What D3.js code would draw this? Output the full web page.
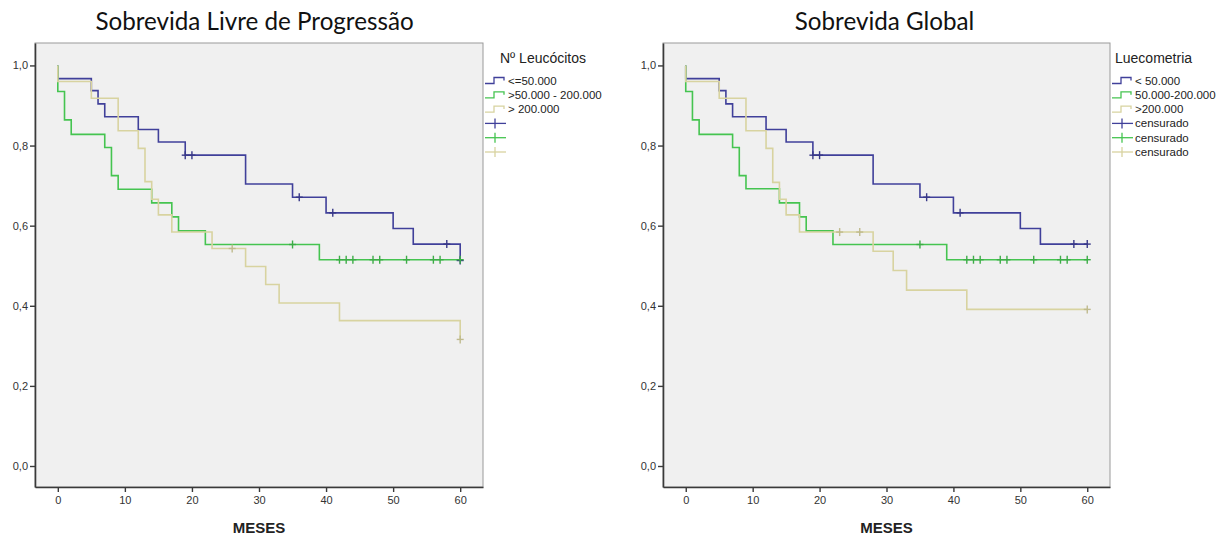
<!DOCTYPE html>
<html>
<head>
<meta charset="utf-8">
<script src="https://cdn.jsdelivr.net/npm/d3@7"></script>
<style>
  html, body { margin: 0; padding: 0; background: #ffffff; }
  svg { display: block; }
  .tick text { font-family: "Liberation Sans", Arial, sans-serif; font-size: 11px; fill: #333; }
</style>
</head>
<body>
<svg id="chart" width="1232" height="538"></svg>
<script>
// ---- data: Kaplan-Meier steps (time of each drop, survival after it) ----
const months = [0, 10, 20, 30, 40, 50, 60];
const survTicks = [0, 0.2, 0.4, 0.6, 0.8, 1.0];

// Sobrevida Livre de Progressão
const pfsLowT  = [0, 5, 6, 7, 12, 15, 19, 28, 35, 40, 50, 53, 60];
const pfsLowS  = [0.967, 0.937, 0.904, 0.872, 0.840, 0.809, 0.776, 0.704, 0.671, 0.632, 0.593, 0.554, 0.513];
const pfsLowC  = [19, 20, 36, 41, 58, 60];
const pfsMidT  = [0, 1, 2, 7, 8, 9, 14, 17, 18, 22, 39];
const pfsMidS  = [0.935, 0.864, 0.828, 0.795, 0.725, 0.691, 0.657, 0.622, 0.587, 0.553, 0.515];
const pfsMidC  = [35, 42, 43, 44, 47, 48, 52, 56, 57, 60];
const pfsHighT = [0, 5, 9, 12, 13, 14, 15, 17, 23, 28, 31, 33, 42, 60];
const pfsHighS = [0.960, 0.918, 0.837, 0.793, 0.710, 0.666, 0.627, 0.584, 0.543, 0.498, 0.453, 0.407, 0.363, 0.316];
const pfsHighC = [26, 60];

// Sobrevida Global
const osLowT  = [0, 5, 6, 7, 12, 15, 19, 28, 35, 40, 50, 53];
const osLowS  = [0.967, 0.937, 0.904, 0.872, 0.840, 0.809, 0.776, 0.704, 0.671, 0.632, 0.593, 0.554];
const osLowC  = [19, 20, 36, 41, 58, 60];
const osMidT  = [0, 1, 2, 7, 8, 9, 14, 17, 18, 22, 39];
const osMidS  = [0.935, 0.864, 0.828, 0.795, 0.725, 0.692, 0.657, 0.622, 0.587, 0.553, 0.515];
const osMidC  = [35, 42, 43, 44, 47, 48, 52, 56, 57, 60];
const osHighT = [0, 5, 9, 12, 13, 14, 15, 17, 28, 31, 33, 42];
const osHighS = [0.960, 0.918, 0.837, 0.793, 0.708, 0.666, 0.627, 0.584, 0.536, 0.488, 0.439, 0.391];
const osHighC = [23, 26, 60];

const pfsLegend = ["<=50.000", ">50.000 - 200.000", "> 200.000", "", "", ""];
const osLegend  = ["< 50.000", "50.000-200.000", ">200.000", "censurado", "censurado", "censurado"];

const groupColors = ["#40409a", "#45c450", "#d8d3a0"];

// ---- layout ----
const svg = d3.select("#chart");
const font = '"Liberation Sans", Arial, sans-serif';
const ptBR = d3.formatLocale({ decimal: ",", thousands: ".", grouping: [3], currency: ["R$", ""] });
const fmt = ptBR.format(".1f");

function drawPanel(p) {
  const g = svg.append("g");
  const x = d3.scaleLinear().domain([-3.4, 63.4]).range([p.left, p.right]);
  const y = d3.scaleLinear().domain([-0.0524, 1.056]).range([487, 43]);

  // plot background and light frame
  g.append("rect").attr("x", p.left).attr("y", 43)
    .attr("width", p.right - p.left).attr("height", 444)
    .attr("fill", "#f0f0f0").attr("stroke", "#9a9a9a").attr("stroke-width", 1);

  // axes
  const ax = g.append("g").attr("transform", "translate(0,487)")
    .call(d3.axisBottom(x).tickValues(months).tickSize(5).tickSizeOuter(0).tickPadding(4));
  const ay = g.append("g").attr("transform", `translate(${p.left},0)`)
    .call(d3.axisLeft(y).tickValues(survTicks).tickFormat(fmt).tickSize(5).tickSizeOuter(0).tickPadding(2));
  [ax, ay].forEach(a => {
    a.select(".domain").attr("stroke", "#3a3a3a").attr("stroke-width", 1.6);
    a.selectAll(".tick line").attr("stroke", "#3a3a3a").attr("stroke-width", 1.4);
  });

  // survival step curves
  const line = d3.line().x(d => x(d[0])).y(d => y(d[1]));
  p.groups.forEach((grp, i) => {
    const pts = [[0, 1]];
    let s = 1;
    grp.t.forEach((t, k) => { pts.push([t, s]); s = grp.s[k]; pts.push([t, s]); });
    pts.push([60, s]);
    g.append("path").datum(pts).attr("d", line)
      .attr("fill", "none").attr("stroke", groupColors[i])
      .attr("stroke-width", 1.6).attr("stroke-linejoin", "miter");
  });

  // censored observations
  p.groups.forEach((grp, i) => {
    const survAt = t => {
      let v = 1;
      grp.t.forEach((tt, k) => { if (tt <= t) v = grp.s[k]; });
      return v;
    };
    const marks = g.append("g").attr("stroke", d3.color(groupColors[i]).darker(0.35)).attr("stroke-width", 1.4);
    grp.c.forEach(t => {
      const cx = x(t), cy = y(survAt(t));
      marks.append("line").attr("x1", cx).attr("x2", cx).attr("y1", cy - 4).attr("y2", cy + 4);
      marks.append("line").attr("x1", cx - 3.5).attr("x2", cx + 3.5).attr("y1", cy).attr("y2", cy);
    });
  });

  // titles
  svg.append("text").attr("x", p.titleX).attr("y", 30)
    .attr("text-anchor", "middle").attr("font-family", "Lato, 'Open Sans', sans-serif")
    .attr("font-size", 24.2).attr("fill", "#111").text(p.title);
  svg.append("text").attr("x", (p.left + p.right) / 2).attr("y", 533)
    .attr("text-anchor", "middle").attr("font-family", font).attr("font-weight", "bold")
    .attr("font-size", 15).attr("fill", "#222").text("MESES");

  // legend
  const lx = p.right + 2;
  svg.append("text").attr("x", p.legendTitleX).attr("y", 62.5)
    .attr("font-family", font).attr("font-size", 14).attr("fill", "#222").text(p.legendTitle);
  p.legend.forEach((label, i) => {
    const cy = 80.5 + i * 14.3;
    const col = groupColors[i % 3];
    if (i < 3) {
      svg.append("path")
        .attr("d", `M${lx},${cy + 3}H${lx + 9}V${cy - 3}H${lx + 19}V${cy}`)
        .attr("fill", "none").attr("stroke", col).attr("stroke-width", 1.3);
    } else {
      svg.append("line").attr("x1", lx).attr("x2", lx + 21).attr("y1", cy).attr("y2", cy)
        .attr("stroke", col).attr("stroke-width", 1.3);
      svg.append("line").attr("x1", lx + 10).attr("x2", lx + 10).attr("y1", cy - 5).attr("y2", cy + 5)
        .attr("stroke", col).attr("stroke-width", 1.3);
    }
    svg.append("text").attr("x", lx + 23).attr("y", cy + 4)
      .attr("font-family", font).attr("font-size", 11.5).attr("fill", "#222").text(label);
  });
}

drawPanel({
  left: 35, right: 483, titleX: 254.5, title: "Sobrevida Livre de Progressão",
  legendTitle: "Nº Leucócitos", legendTitleX: 500, legend: pfsLegend,
  groups: [
    { t: pfsLowT, s: pfsLowS, c: pfsLowC },
    { t: pfsMidT, s: pfsMidS, c: pfsMidC },
    { t: pfsHighT, s: pfsHighS, c: pfsHighC }
  ]
});
drawPanel({
  left: 663, right: 1110, titleX: 884.5, title: "Sobrevida Global",
  legendTitle: "Luecometria", legendTitleX: 1115, legend: osLegend,
  groups: [
    { t: osLowT, s: osLowS, c: osLowC },
    { t: osMidT, s: osMidS, c: osMidC },
    { t: osHighT, s: osHighS, c: osHighC }
  ]
});
</script>
</body>
</html>
